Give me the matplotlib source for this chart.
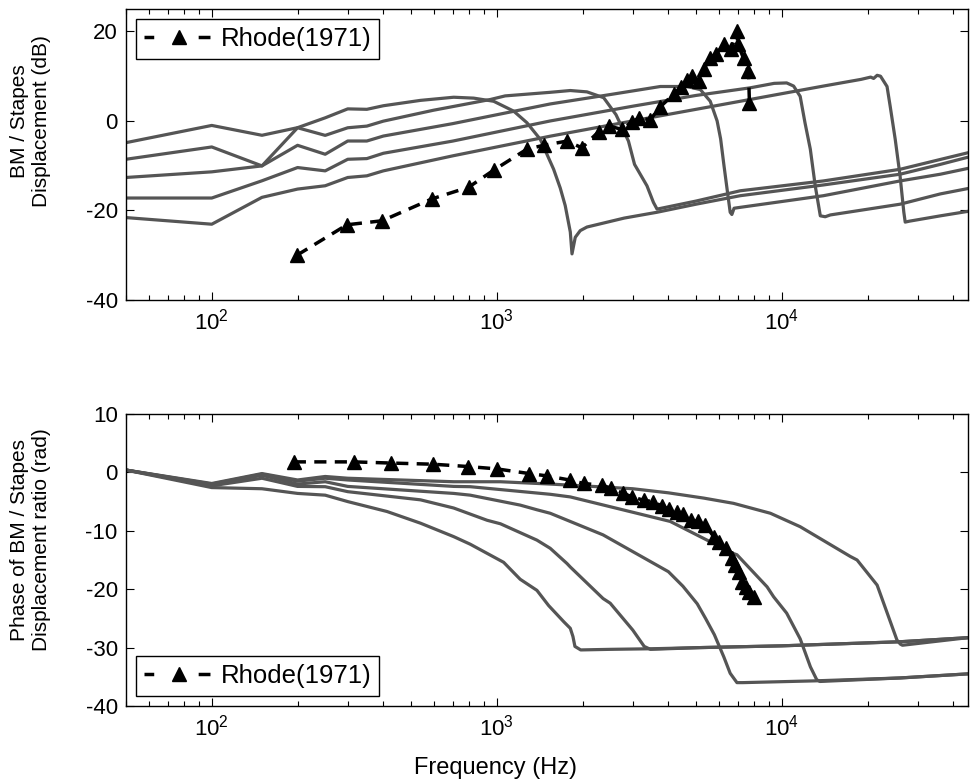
import matplotlib
matplotlib.use("Agg")
import matplotlib.pyplot as plt
from matplotlib.lines import Line2D

plt.rcParams['font.family'] = ['Liberation Sans', 'DejaVu Sans']
plt.rcParams['mathtext.default'] = 'regular'
plt.rcParams['axes.unicode_minus'] = False

# ---- top panel: BM / stapes displacement (dB), five model places ----
c1_f = [50, 100, 150, 200, 250, 300, 350, 400, 540, 706, 830, 975, 1146, 1276, 1421, 1583,
        1670, 1738, 1811, 1836, 1885, 1963, 2072, 2800, 3650, 5000, 7150, 14000, 26000, 36000, 45000]
c1_db = [-4.85, -1.0, -3.2, -1.5, 0.7, 2.7, 2.6, 3.4, 4.6, 5.3, 5.1, 4.4, 2.2, -0.4, -4.1, -10.8,
         -15.0, -18.9, -24.8, -29.7, -26.0, -24.5, -23.7, -21.7, -20.4, -18.6, -16.7, -14.3, -11.9, -9.7, -8.1]

c2_f = [50, 100, 150, 200, 250, 300, 350, 400, 600, 950, 1070, 1540, 1811, 2072, 2371, 2620,
        2897, 3043, 3365, 3545, 3650, 5000, 7150, 14000, 26000, 36000, 45000]
c2_db = [-8.56, -5.81, -10.04, -1.52, -3.22, -1.52, -1.15, -0.04, 2.4, 4.8, 5.6, 6.4, 6.8, 6.5, 5.2, 1.4,
         -4.5, -9.7, -14.5, -18.2, -19.7, -17.9, -15.6, -13.4, -10.8, -8.6, -7.1]

c3_f = [50, 100, 150, 200, 250, 300, 350, 400, 700, 1540, 2500, 3750, 4650, 5180, 5610, 5930,
        6100, 6260, 6420, 6590, 6680, 6800, 7150, 14000, 26000, 36000, 45000]
c3_db = [-12.63, -11.37, -10.04, -5.44, -7.44, -4.48, -4.48, -3.37, -0.6, 3.8, 5.9, 7.7, 7.7, 7.0, 4.4, 0.0,
         -4.0, -9.7, -15.0, -20.4, -20.9, -19.5, -19.3, -16.7, -13.4, -11.9, -10.6]

c4_f = [50, 100, 150, 200, 250, 300, 350, 400, 700, 1540, 3000, 5000, 7740, 9400, 10400, 11000,
        11600, 12060, 12590, 13100, 13650, 14200, 14800, 26000, 36000, 45000]
c4_db = [-17.22, -17.22, -13.37, -10.41, -11.15, -8.56, -8.41, -7.22, -4.5, 0.0, 3.3, 5.7, 7.4, 8.4, 8.5, 7.8,
         5.5, -0.4, -6.3, -14.5, -21.2, -21.4, -21.0, -18.6, -16.3, -15.1]

c5_f = [50, 100, 150, 200, 250, 300, 350, 400, 700, 1540, 3500, 7740, 14000, 19000, 20500, 21000,
        21600, 22200, 23400, 24000, 25000, 26000, 26800, 27100, 28000, 36000, 45000]
c5_db = [-21.59, -23.07, -17.07, -15.22, -14.48, -12.63, -12.26, -11.15, -7.8, -3.4, 0.8, 4.8, 7.8, 9.3, 9.8, 9.5,
         10.2, 10.0, 7.7, 3.3, -4.1, -12.3, -20.4, -22.6, -22.4, -21.2, -20.2]

rhode_amp_f = [199, 298, 396, 593, 797, 975, 1276, 1470, 1763, 1990, 2277, 2468, 2750, 2980, 3145, 3457,
               3750, 4200, 4430, 4650, 4840, 5110, 5320, 5590, 5890, 6280, 6640, 6960, 7000, 7340, 7640, 7700]
rhode_amp_db = [-30.0, -23.2, -22.3, -17.4, -14.8, -11.0, -6.3, -5.4, -4.5, -6.0, -2.4, -1.1, -1.9, -0.2, 0.6, 0.3,
                3.2, 6.1, 7.6, 9.2, 10.0, 8.9, 11.5, 14.0, 15.0, 17.1, 16.0, 20.0, 17.3, 14.0, 11.1, 4.0]

# ---- bottom panel: phase (rad) ----
p1_f = [50, 100, 150, 200, 250, 300, 412, 540, 706, 807, 1057, 1208, 1383, 1520, 1720, 1811, 1850,
        1880, 1970, 2500, 3500, 5180, 10000, 26000, 45000]
p1_ph = [0.4, -2.6, -2.8, -3.6, -3.9, -5.0, -6.7, -8.7, -11.0, -12.3, -15.4, -18.3, -20.2, -22.8, -25.6, -26.7, -28.1,
         -29.8, -30.4, -30.3, -30.2, -30.0, -29.7, -29.0, -28.3]

p2_f = [50, 100, 150, 200, 250, 300, 540, 706, 925, 1030, 1383, 1540, 1763, 1811, 2360, 2500, 3000,
        3290, 3460, 5180, 10000, 26000, 45000]
p2_ph = [0.4, -2.3, -1.0, -2.4, -2.45, -3.3, -4.7, -6.1, -8.2, -8.8, -11.6, -13.0, -15.6, -16.2, -21.6, -22.4, -27.0,
         -29.8, -30.3, -30.0, -29.7, -29.0, -28.3]

p3_f = [50, 100, 150, 200, 250, 300, 706, 807, 1208, 1383, 1540, 2360, 4000, 4500, 5050, 5400, 5800,
        6260, 6590, 6960, 7300, 13000, 26000, 45000]
p3_ph = [0.4, -2.1, -0.5, -2.0, -1.6, -2.4, -3.6, -3.9, -5.6, -6.4, -7.0, -10.7, -17.0, -19.5, -22.5, -25.0, -27.8,
         -31.6, -34.4, -36.0, -36.0, -35.7, -35.2, -34.5]

p4_f = [50, 100, 150, 200, 250, 300, 706, 807, 1540, 1811, 4060, 6770, 6960, 8880, 9360, 10400, 11600,
        12600, 13260, 13600, 26000, 45000]
p4_ph = [0.4, -2.0, -0.3, -1.5, -1.0, -1.3, -2.4, -2.45, -3.75, -4.2, -8.4, -13.9, -14.1, -19.6, -21.3, -24.1, -28.5,
         -33.3, -35.5, -35.8, -35.2, -34.5]

p5_f = [50, 100, 150, 200, 250, 300, 706, 1030, 1540, 2360, 3000, 4000, 5320, 6770, 9120, 11600, 13600,
        17400, 18370, 21600, 23400, 25350, 26050, 26500, 45000]
p5_ph = [0.4, -1.9, -0.2, -1.3, -0.7, -1.0, -1.6, -1.6, -2.0, -2.5, -2.8, -3.5, -4.4, -5.3, -7.0, -9.3, -11.3,
         -14.4, -15.0, -19.3, -24.0, -28.7, -29.4, -29.6, -28.3]

rhode_ph_f = [194, 315, 425, 597, 795, 1000, 1300, 1500, 1800, 2015, 2340, 2510, 2780, 2990, 3290, 3540,
              3800, 4020, 4290, 4510, 4790, 5080, 5380, 5770, 6040, 6350, 6680, 6850, 7050, 7250, 7460, 7650, 7960]
rhode_ph = [1.8, 1.8, 1.6, 1.4, 1.0, 0.6, -0.2, -0.6, -1.3, -1.9, -2.2, -2.7, -3.6, -4.2, -4.8, -5.0,
            -5.8, -6.3, -6.8, -7.2, -8.2, -8.4, -9.0, -11.0, -12.0, -13.0, -14.6, -15.8, -17.0, -18.7, -19.6, -20.4, -21.3]

grey = '#555555'
fig = plt.figure(figsize=(9.75, 7.82), dpi=100)
ax1 = fig.add_axes([0.1292, 0.6164, 0.8636, 0.372])
ax2 = fig.add_axes([0.1292, 0.0972, 0.8636, 0.3734])

for f, v in [(c1_f, c1_db), (c2_f, c2_db), (c3_f, c3_db), (c4_f, c4_db), (c5_f, c5_db)]:
    ax1.plot(f, v, color=grey, lw=2.3, solid_joinstyle='round')
ax1.plot(rhode_amp_f, rhode_amp_db, color='black', lw=2.5, ls=(0, (3.5, 2.4)),
         marker='^', ms=9.5)

for f, v in [(p1_f, p1_ph), (p2_f, p2_ph), (p3_f, p3_ph), (p4_f, p4_ph), (p5_f, p5_ph)]:
    ax2.plot(f, v, color=grey, lw=2.3, solid_joinstyle='round')
ax2.plot(rhode_ph_f, rhode_ph, color='black', lw=2.5, ls=(0, (3.5, 2.4)),
         marker='^', ms=9.5)

for ax in (ax1, ax2):
    ax.set_xscale('log')
    ax.set_xlim(50, 45000)
    ax.tick_params(which='both', direction='in', top=True, right=True, labelsize=16)
    ax.tick_params(which='major', length=6, width=0.8, pad=6)
    ax.tick_params(which='minor', length=3.5, width=0.8)
    for s in ax.spines.values():
        s.set_linewidth(1.0)

ax1.set_ylim(-40, 25)
ax1.set_yticks([-40, -20, 0, 20])
ax2.set_ylim(-40, 10)
ax2.set_yticks([-40, -30, -20, -10, 0, 10])

# labels sit off-centre in the original, so place them in figure pixels
fx = lambda px: px / 975.0
fy = lambda py: 1 - py / 782.0
ax1.set_ylabel('BM / Stapes\nDisplacement (dB)', fontsize=15, va='center', linespacing=1.2)
ax1.yaxis.set_label_coords(fx(30.5), fy(121), transform=fig.transFigure)
ax2.set_ylabel('Phase of BM / Stapes\nDisplacement ratio (rad)', fontsize=15, va='center', linespacing=1.2)
ax2.yaxis.set_label_coords(fx(30.5), fy(540), transform=fig.transFigure)
ax2.set_xlabel('Frequency (Hz)', fontsize=17, va='center')
ax2.xaxis.set_label_coords(fx(495), fy(768), transform=fig.transFigure)

# legend key drawn matlab-like: short dash, triangle, short dash
key = Line2D([], [], color='black', lw=2.5, ls=(0.6, (3.4, 12.8)), marker='^', ms=9.5)
for ax, loc in [(ax1, 'upper left'), (ax2, 'lower left')]:
    leg = ax.legend([key], ['Rhode(1971)'], loc=loc, fontsize=18.5, fancybox=False, framealpha=1,
                    edgecolor='black', numpoints=1, handlelength=2.7, borderaxespad=0.4,
                    borderpad=0.3, handletextpad=0.3)
    leg.get_frame().set_linewidth(1.0)

fig.savefig('out.png', dpi=100)
